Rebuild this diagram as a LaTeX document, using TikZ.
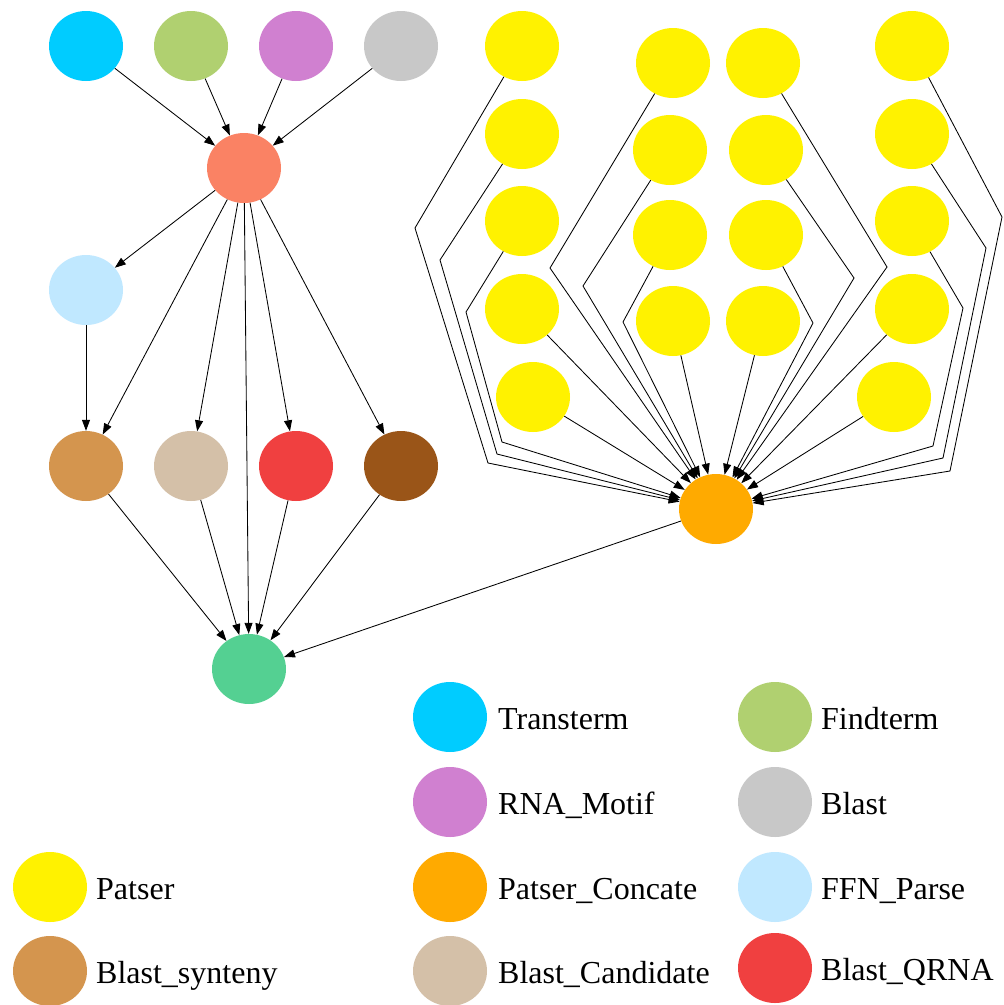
\documentclass[tikz,border=0pt]{standalone}
\usepackage{fontspec}
\setmainfont{Liberation Serif}
\usetikzlibrary{shapes.geometric,arrows.meta}

\definecolor{cTransterm}{RGB}{0,204,255}
\definecolor{cFindterm}{RGB}{176,208,112}
\definecolor{cMotif}{RGB}{208,128,208}
\definecolor{cBlast}{RGB}{200,200,200}
\definecolor{cSalmon}{RGB}{250,130,100}
\definecolor{cFFN}{RGB}{192,232,255}
\definecolor{cSynteny}{RGB}{212,149,78}
\definecolor{cCandidate}{RGB}{212,192,168}
\definecolor{cQRNA}{RGB}{240,64,64}
\definecolor{cDarkBrown}{RGB}{154,85,24}
\definecolor{cGreen}{RGB}{84,208,146}
\definecolor{cPatser}{RGB}{255,242,0}
\definecolor{cConcate}{RGB}{255,170,0}

\begin{document}
\begin{tikzpicture}[x=1pt,y=-1pt,
  dot/.style={ellipse, minimum width=74pt, minimum height=70pt, inner sep=0pt, fill=#1},
  arr/.style={-{Triangle[length=11pt,width=8pt]}, line width=0.85pt, black},
  lbl/.style={anchor=base west, inner sep=0pt, font=\fontsize{32}{38}\selectfont}]

\fill[white] (0,0) rectangle (1004,1005);
\useasboundingbox (0,0) rectangle (1004,1005);

% left graph
\node[dot=cTransterm] (tt) at (86,46) {};
\node[dot=cFindterm]  (ft) at (191,46) {};
\node[dot=cMotif]     (rm) at (296,46) {};
\node[dot=cBlast]     (bl) at (401,46) {};
\node[dot=cSalmon]    (sa) at (244,168) {};
\node[dot=cFFN]       (ff) at (86,290) {};
\node[dot=cSynteny]   (sy) at (86,466) {};
\node[dot=cCandidate] (ca) at (191,466) {};
\node[dot=cQRNA]      (qr) at (296,466) {};
\node[dot=cDarkBrown] (db) at (401,466) {};
\node[dot=cGreen]     (gr) at (249,669) {};

% Patser nodes, four columns
\node[dot=cPatser] (a1) at (522,46) {};
\node[dot=cPatser] (a2) at (522,134) {};
\node[dot=cPatser] (a3) at (522,221) {};
\node[dot=cPatser] (a4) at (522,309) {};
\node[dot=cPatser] (a5) at (533,397) {};
\node[dot=cPatser] (b1) at (673,63) {};
\node[dot=cPatser] (b2) at (670,150) {};
\node[dot=cPatser] (b3) at (670,235) {};
\node[dot=cPatser] (b4) at (673,321) {};
\node[dot=cPatser] (c1) at (763,63) {};
\node[dot=cPatser] (c2) at (766,150) {};
\node[dot=cPatser] (c3) at (766,235) {};
\node[dot=cPatser] (c4) at (763,321) {};
\node[dot=cPatser] (d1) at (912,46) {};
\node[dot=cPatser] (d2) at (912,134) {};
\node[dot=cPatser] (d3) at (912,221) {};
\node[dot=cPatser] (d4) at (912,309) {};
\node[dot=cPatser] (d5) at (894,397) {};
\node[dot=cConcate] (pc) at (716,509) {};

% edges of the left graph
\foreach \s in {tt,ft,rm,bl} \draw[arr] (\s) -- (sa);
\foreach \t in {ff,sy,ca,qr,db,gr} \draw[arr] (sa) -- (\t);
\draw[arr] (ff) -- (sy);
\foreach \s in {sy,ca,qr,db} \draw[arr] (\s) -- (gr);
\draw[arr] (pc) -- (gr);

% Patser edges into the concatenation node
\draw[arr] (a1) -- (415,228) -- (488,463) -- (pc);
\draw[arr] (a2) -- (440,260) -- (497,454) -- (pc);
\draw[arr] (a3) -- (466,312) -- (502,442) -- (pc);
\draw[arr] (a4) -- (pc);
\draw[arr] (a5) -- (pc);
\draw[arr] (b1) -- (550,268) -- (pc);
\draw[arr] (b2) -- (583,286) -- (pc);
\draw[arr] (b3) -- (623,322) -- (pc);
\draw[arr] (b4) -- (pc);
\draw[arr] (c1) -- (887,267) -- (pc);
\draw[arr] (c2) -- (854,278) -- (pc);
\draw[arr] (c3) -- (813,323) -- (pc);
\draw[arr] (c4) -- (pc);
\draw[arr] (d1) -- (1002,217) -- (950,471) -- (pc);
\draw[arr] (d2) -- (986,248) -- (943,458) -- (pc);
\draw[arr] (d3) -- (963,308) -- (933,446) -- (pc);
\draw[arr] (d4) -- (pc);
\draw[arr] (d5) -- (pc);

% legend
\node[dot=cTransterm] (l1) at (450,717) {};
\node[lbl] (t1) at (498,729) {Transterm};
\node[dot=cFindterm] (l2) at (775,717) {};
\node[lbl] (t2) at (821,729) {Findterm};
\node[dot=cMotif] (l3) at (450,802) {};
\node[lbl] (t3) at (498,814) {RNA\_Motif};
\node[dot=cBlast] (l4) at (775,802) {};
\node[lbl] (t4) at (821,814) {Blast};
\node[dot=cPatser] (l5) at (50,887) {};
\node[lbl] (t5) at (96,899) {Patser};
\node[dot=cConcate] (l6) at (450,887) {};
\node[lbl] (t6) at (498,899) {Patser\_Concate};
\node[dot=cFFN] (l7) at (775,887) {};
\node[lbl] (t7) at (821,899) {FFN\_Parse};
\node[dot=cSynteny] (l8) at (50,971) {};
\node[lbl] (t8) at (96,983) {Blast\_synteny};
\node[dot=cCandidate] (l9) at (450,971) {};
\node[lbl] (t9) at (498,983) {Blast\_Candidate};
\node[dot=cQRNA] (l10) at (775,968) {};
\node[lbl] (t10) at (821,980) {Blast\_QRNA};
\end{tikzpicture}
\end{document}
